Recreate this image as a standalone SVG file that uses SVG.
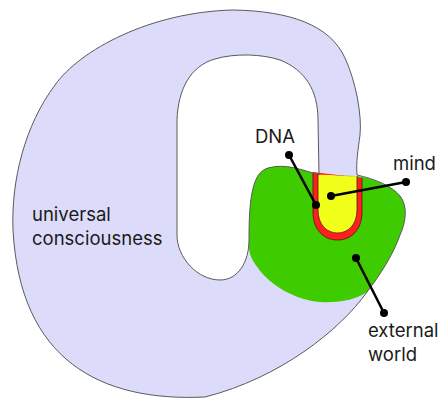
<svg xmlns="http://www.w3.org/2000/svg" width="440" height="398" viewBox="0 0 440 398">
  <style>
    .outline{fill:none;stroke:#5a5a5a;stroke-width:1}
    .lbl{font-family:Inter,"Open Sans",sans-serif;font-size:18.5px;fill:#1a1a1a}
    .conn line{stroke:#000;stroke-width:2.5}
    .conn circle{fill:#000}
  </style>
  <defs>
    <path id="outerP" d="M 233,10 C 290,11 330,25 345,58 C 356,82 362,115 360,135 C 358,150 356,162 357,175 C 375,179 392,186 400,196 C 408,206 406,222 400,235 C 393,255 380,275 367,292 C 340,330 280,378 205,397 C 100,402 20,360 13,230 C 11,180 25,125 55,85 C 80,50 150,12 233,10 Z"/>
    <path id="holeP" d="M 319,175 L 318,120 C 318,90 305,70 280,60 C 262,54 235,53 215,59 C 190,66 178,90 177,120 L 177,235 C 177,258 198,280 220,280 C 238,280 249,262 249,240 C 249,215 250,195 255,182 C 258,174 262,170 268,168 C 285,163 303,170 319,175 Z"/>
  </defs>
  <g id="universal-consciousness">
    <path d="M 233,10 C 290,11 330,25 345,58 C 356,82 362,115 360,135 C 358,150 356,162 357,175 C 375,179 392,186 400,196 C 408,206 406,222 400,235 C 393,255 380,275 367,292 C 340,330 280,378 205,397 C 100,402 20,360 13,230 C 11,180 25,125 55,85 C 80,50 150,12 233,10 Z M 319,175 L 318,120 C 318,90 305,70 280,60 C 262,54 235,53 215,59 C 190,66 178,90 177,120 L 177,235 C 177,258 198,280 220,280 C 238,280 249,262 249,240 C 249,215 250,195 255,182 C 258,174 262,170 268,168 C 285,163 303,170 319,175 Z" fill="#dcdcfa" fill-rule="evenodd"/>
  </g>
  <g id="external-world">
    <path d="M 268,168 C 285,163 303,170 319,175 L 357,176 C 375,179 392,186 400,196 C 408,206 406,222 400,235 C 393,255 380,275 367,292 C 355,300 340,303 320,302 C 295,300 270,285 258,268 C 250,258 248,250 249,240 C 249,215 250,195 255,182 C 258,174 262,170 268,168 Z" fill="#3ecc00"/>
  </g>
  <g id="dna">
    <path d="M 313,172 L 313,212 C 313,230 324,240 337.5,240 C 351,240 362,230 362,212 L 362,178 Z" fill="#ff1f1f"/>
    <path d="M 313,172 L 313,212 C 313,230 324,240 337.5,240 C 351,240 362,230 362,212 L 362,178" fill="none" stroke="#5a1010" stroke-width="0.8"/>
  </g>
  <g id="mind">
    <path d="M 318,175 L 318,210 C 318,225 327,233 337.5,233 C 348,233 357,225 357,210 L 357,176 C 345,177 330,174 318,175 Z" fill="#f2ff1a"/>
    <path d="M 318,175 L 318,210 C 318,225 327,233 337.5,233 C 348,233 357,225 357,210 L 357,176" fill="none" stroke="#5a1010" stroke-width="0.8"/>
  </g>
  <g id="outlines">
    <use href="#outerP" class="outline"/>
    <use href="#holeP" class="outline"/>
  </g>
  <g id="connectors" class="conn">
    <line x1="289" y1="155" x2="316" y2="205"/>
    <circle cx="289" cy="155" r="4"/>
    <circle cx="316" cy="205" r="4"/>
    <line x1="331" y1="196" x2="406" y2="182"/>
    <circle cx="331" cy="196" r="4"/>
    <circle cx="406" cy="182" r="4"/>
    <line x1="356" y1="258" x2="384" y2="313"/>
    <circle cx="356" cy="258" r="4"/>
    <circle cx="384" cy="313" r="4"/>
  </g>
  <g id="labels">
    <text class="lbl" x="32" y="221">universal</text>
    <text class="lbl" x="32" y="245">consciousness</text>
    <text class="lbl" x="255" y="143">DNA</text>
    <text class="lbl" x="393" y="170">mind</text>
    <text class="lbl" x="368" y="337">external</text>
    <text class="lbl" x="368" y="361">world</text>
  </g>
</svg>
